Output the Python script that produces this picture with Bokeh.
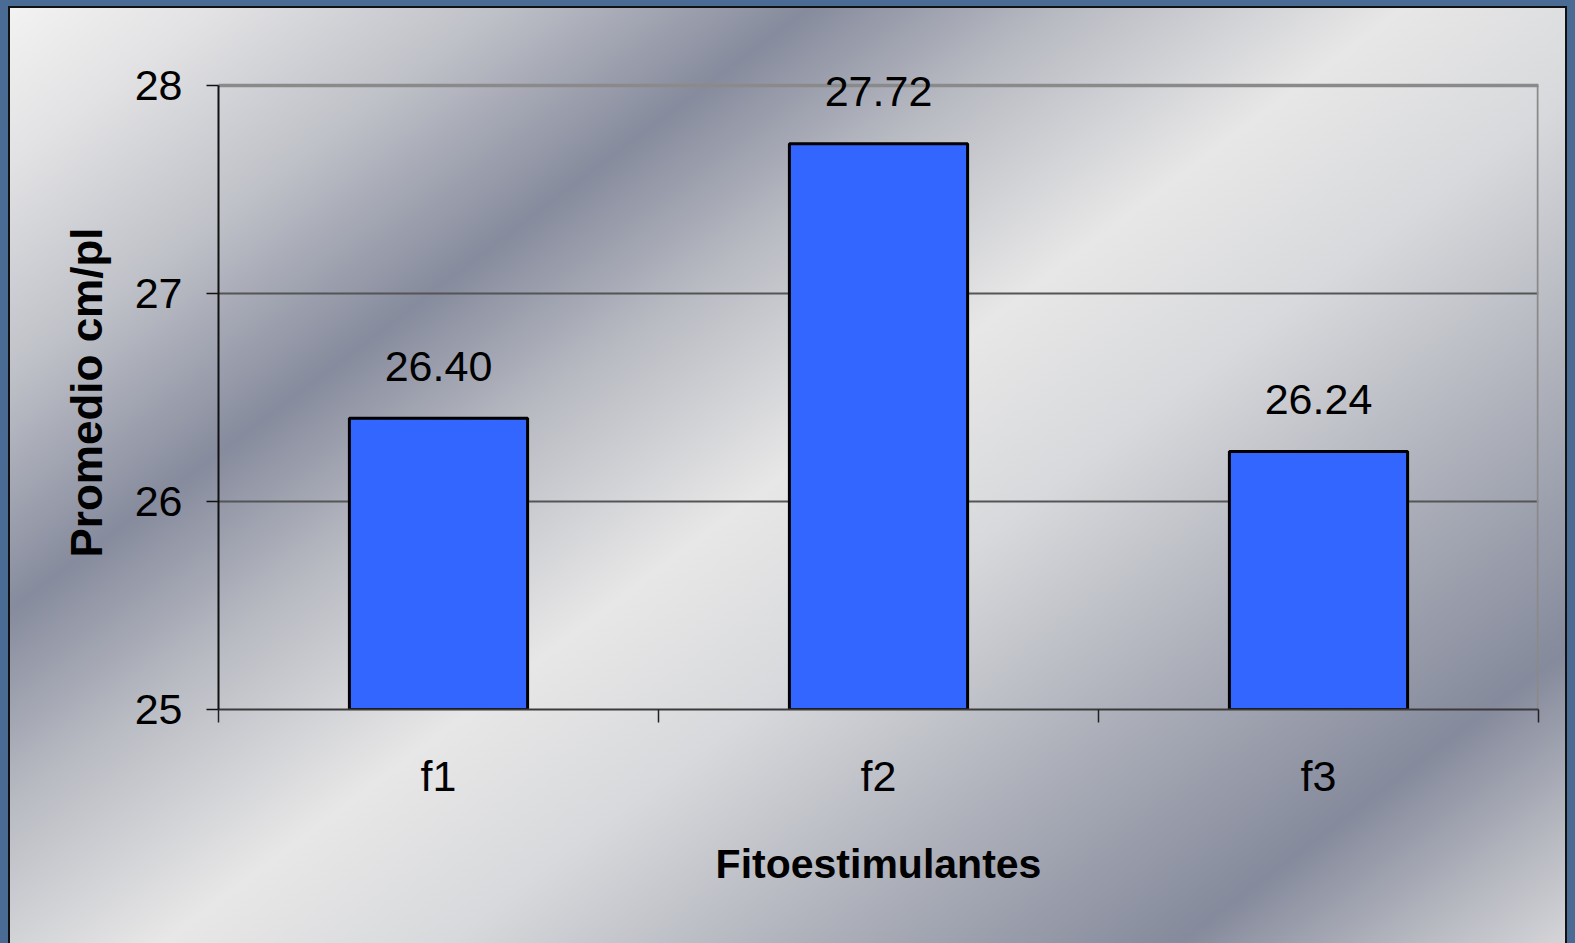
from bokeh.plotting import figure
from bokeh.models import ColumnDataSource, Label, FixedTicker, Range1d, Title
from bokeh.embed import file_html
from bokeh.resources import INLINE

categories = ["f1", "f2", "f3"]
values = [26.40, 27.72, 26.24]
value_labels = ["26.40", "27.72", "26.24"]
y_ticks = [25, 26, 27, 28]

xs = [i + 0.5 for i in range(len(categories))]
src = ColumnDataSource(dict(x=xs, top=values, lab=value_labels))

W, H = 1575, 943
FRAME_TOP, FRAME_BOTTOM = 85, 709
px_per_unit = (FRAME_BOTTOM - FRAME_TOP) / (y_ticks[-1] - y_ticks[0])
EXTRA = 26  # headroom above the top gridline so the value labels are not clipped
y_end = y_ticks[-1] + EXTRA / px_per_unit

grad = ("linear-gradient(143deg, #f4f4f4 0%, #e2e2e4 8%, #bfc1c8 18%, #868b9d 29%, "
        "#b8bac2 38%, #e7e7e7 50%, #d8d9dc 60%, #b0b3bc 72%, #858a9c 86%, "
        "#b6b8c0 94%, #d6d6da 100%)")
BLUE = "#4a6b93"
shadow = (f"inset 8px 0 0 {BLUE}, inset -8px 0 0 {BLUE}, inset 0 6px 0 {BLUE}, "
          "inset 10px 0 0 #111111, inset -10px 0 0 #111111, inset 0 8px 0 #111111")

p = figure(width=W, height=H, output_backend="svg", toolbar_location=None,
           x_range=Range1d(0, len(categories)), y_range=Range1d(y_ticks[0], y_end),
           min_border_left=218, min_border_right=37,
           min_border_top=FRAME_TOP - EXTRA, min_border_bottom=H - FRAME_BOTTOM,
           styles={"background": grad, "box-shadow": shadow})
p.border_fill_alpha = 0
p.background_fill_alpha = 0
p.outline_line_color = None

# frame top / right border (plot-area box)
p.segment(x0=[0, len(categories)], y0=[y_ticks[-1], y_ticks[0]],
          x1=[len(categories), len(categories)], y1=[y_ticks[-1], y_ticks[-1]],
          line_color="#8a8a8a", line_width=3.5)

p.vbar(x="x", top="top", bottom=y_ticks[0], width=0.405, source=src,
       fill_color="#3366ff", line_color="#000000", line_width=3)

FONT = "Liberation Sans"
for x, v, lab in zip(xs, values, value_labels):
    p.add_layout(Label(x=x, y=v, text=lab, text_align="center",
                       text_baseline="alphabetic", y_offset=52, text_font=FONT,
                       text_font_size="43px", text_color="#000000"))

# x axis
p.xaxis.ticker = FixedTicker(ticks=xs, minor_ticks=list(range(len(categories) + 1)))
p.xaxis.major_label_overrides = {x: c for x, c in zip(xs, categories)}
p.xaxis.major_tick_out = 0
p.xaxis.major_tick_in = 0
p.xaxis.minor_tick_out = 13
p.xaxis.minor_tick_in = 0
p.xaxis.minor_tick_line_color = "#222222"
p.xaxis.minor_tick_line_width = 1.5
p.xaxis.axis_line_color = "#3a3a3a"
p.xaxis.axis_line_width = 2
p.xaxis.major_label_text_font = FONT
p.xaxis.major_label_text_font_size = "43px"
p.xaxis.major_label_text_color = "#000000"
p.xaxis.major_label_standoff = 29
p.xaxis.axis_label = "Fitoestimulantes"
p.xaxis.axis_label_text_font = FONT
p.xaxis.axis_label_text_font_style = "bold"
p.xaxis.axis_label_text_font_size = "41px"
p.xaxis.axis_label_text_color = "#000000"
p.xaxis.axis_label_standoff = 38

# y axis
p.yaxis.ticker = FixedTicker(ticks=y_ticks, minor_ticks=[])
p.yaxis.bounds = (y_ticks[0], y_ticks[-1])
p.yaxis.major_tick_out = 12
p.yaxis.major_tick_in = 0
p.yaxis.major_tick_line_color = "#111111"
p.yaxis.major_tick_line_width = 1.5
p.yaxis.axis_line_color = "#111111"
p.yaxis.axis_line_width = 2
p.yaxis.major_label_text_font = FONT
p.yaxis.major_label_text_font_size = "43px"
p.yaxis.major_label_text_color = "#000000"
p.yaxis.major_label_standoff = 24

# y title as a left-side Title, positioned along the 25-28 span
p.add_layout(Title(text="Promedio cm/pl", align="left", offset=152,
                   text_font=FONT, text_font_style="bold", text_font_size="44px",
                   text_color="#000000", standoff=42), "left")

p.xgrid.grid_line_color = None
p.ygrid.grid_line_color = "#555555"
p.ygrid.grid_line_width = 2

open("out.html", "w").write(file_html(p, INLINE))
